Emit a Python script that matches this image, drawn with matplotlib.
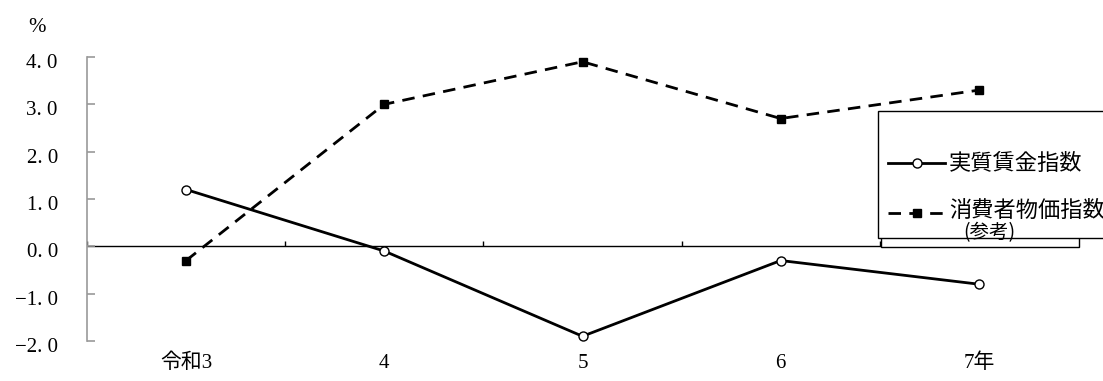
import matplotlib
matplotlib.use("Agg")
import matplotlib.pyplot as plt
import matplotlib.transforms as mtransforms
from matplotlib.lines import Line2D
from matplotlib.patches import Rectangle

plt.rcParams['font.family'] = ['Liberation Serif', 'Noto Sans CJK JP', 'DejaVu Sans']

years = ["令和3", "4", "5", "6", "7年"]
real_wage = [1.2, -0.1, -1.9, -0.3, -0.8]
cpi = [-0.3, 3.0, 3.9, 2.7, 3.3]
y_ticks = [4.0, 3.0, 2.0, 1.0, 0.0, -1.0, -2.0]
label_wage = "実質賃金指数"
label_cpi = "消費者物価指数"
label_cpi2 = "(参考)"

W, H = 1103, 381
fig = plt.figure(figsize=(W / 100, H / 100), dpi=100)


def px(x, y):
    return x / W, 1 - y / H


ax = fig.add_axes([87 / W, 1 - 341 / H, (1078 - 87) / W, 284 / H])
x = list(range(len(years)))

ax.set_xlim(-0.5, len(years) - 0.5)
ax.set_ylim(-2.0, 4.0)
for s in ["top", "right", "bottom"]:
    ax.spines[s].set_visible(False)
ax.spines["left"].set_color("#999999")
ax.spines["left"].set_linewidth(1.2)

ax.set_yticks(y_ticks)
ax.set_yticklabels([f"{v:.1f}".replace(".", ". ").replace("-", "−") for v in y_ticks], fontsize=15)
ax.tick_params(axis="y", direction="in", length=6, color="#999999", width=1.2, pad=21)
shift = mtransforms.ScaledTranslation(0, -4 / 100, fig.dpi_scale_trans)
for lab in ax.get_yticklabels():
    lab.set_transform(lab.get_transform() + shift)

ax.set_xticks(x)
ax.set_xticklabels(years, fontsize=15)
ax.tick_params(axis="x", length=0, pad=9)

ax.axhline(0, color="black", lw=1.0, zorder=1)
ax.vlines([i - 0.5 for i in range(len(years) + 1)], 0, 0.11, color="black", lw=1.0, zorder=1)

ax.plot(x, cpi, color="black", lw=2.0, ls=(0, (4.5, 3)), marker="s", markersize=6,
        markerfacecolor="black", markeredgecolor="black", zorder=3, clip_on=False)
ax.plot(x, real_wage, color="black", lw=2.0, marker="o", markersize=6.5,
        markerfacecolor="white", markeredgecolor="black", markeredgewidth=1.0, zorder=4, clip_on=False)

fig.text(*px(28, 27), "%", fontsize=15, ha="left", va="center")

# legend box with offset outline
x0, y0 = px(881, 247)
fig.add_artist(Rectangle((x0, y0), (1079 - 881) / W, 130 / H, transform=fig.transFigure,
                         facecolor="white", edgecolor="black", lw=1.0, zorder=5))
x0, y0 = px(878, 238)
fig.add_artist(Rectangle((x0, y0), (1120 - 878) / W, (238 - 111) / H, transform=fig.transFigure,
                         facecolor="white", edgecolor="black", lw=1.0, zorder=6))

xa, ya = px(888, 163)
xb, _ = px(945, 163)
xm, _ = px(917, 163)
fig.add_artist(Line2D([xa, xb], [ya, ya], transform=fig.transFigure, color="black", lw=2.0, zorder=7))
fig.add_artist(Line2D([xm], [ya], transform=fig.transFigure, color="black", marker="o", markersize=6.5,
                      markerfacecolor="white", markeredgewidth=1.0, zorder=8))
fig.text(*px(949, 163), label_wage, fontsize=16, ha="left", va="center", zorder=8,
         family=['Noto Sans CJK JP'])

ya2 = px(0, 213)[1]
fig.add_artist(Line2D([xa, xb], [ya2, ya2], transform=fig.transFigure, color="black", lw=2.0,
                      ls=(0, (4.5, 3)), zorder=7))
fig.add_artist(Line2D([xm], [ya2], transform=fig.transFigure, color="black", marker="s", markersize=6,
                      zorder=8))
fig.text(*px(949, 210), label_cpi, fontsize=16, ha="left", va="center", zorder=8,
         family=['Noto Sans CJK JP'])
fig.text(*px(963, 233), label_cpi2, fontsize=14, ha="left", va="center", zorder=8,
         family=['Noto Sans CJK JP'])

fig.savefig("out.png", dpi=100)
